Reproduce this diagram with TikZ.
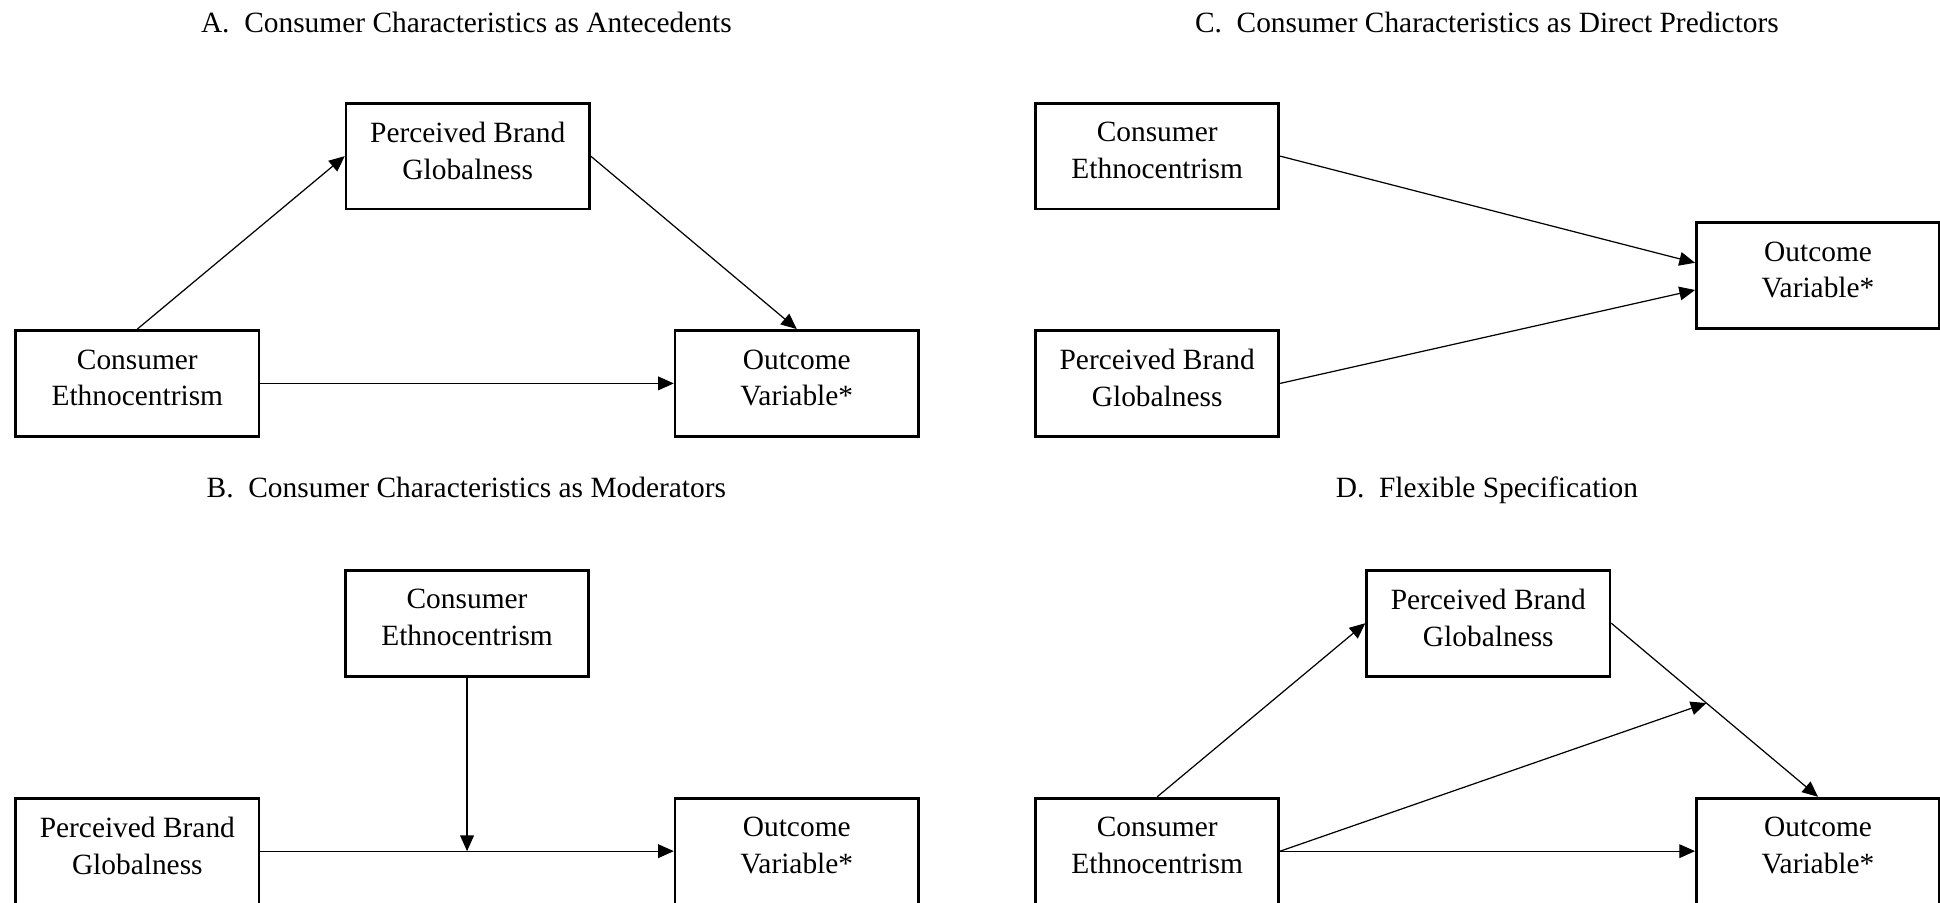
\documentclass[tikz,border=0pt]{standalone}
\usepackage{fontspec}
\setmainfont{Liberation Serif}
\usetikzlibrary{arrows.meta}
\tikzset{
    varbox/.style={rectangle, draw=black, line width=1.1pt, minimum width=3.49cm, minimum height=1.52cm, align=center, font=\fontsize{12pt}{15pt}\selectfont, execute at end node={\rule[-4.6pt]{0pt}{4.6pt}}},
    arrow/.style={-{Triangle[length=6.4pt, width=5.6pt]}, line width=0.5pt, color=black},
    paneltitle/.style={anchor=base, font=\fontsize{12pt}{15pt}\selectfont},
}

\begin{document}
\begin{tikzpicture}
    \useasboundingbox (0,0) rectangle (27.83,-12.94);

    % Pannello A
    \node[paneltitle] (atitle) at (6.69,-0.46) {A.~~Consumer Characteristics as Antecedents};
    \node[varbox] (apbg) at (6.71,-2.24) {Perceived Brand\\Globalness};
    \node[varbox] (ace) at (1.97,-5.50) {Consumer\\Ethnocentrism};
    \node[varbox] (aout) at (11.43,-5.50) {Outcome\\Variable*};
    \draw[arrow] (ace.north) -- (apbg.west);
    \draw[arrow] (apbg.east) -- (aout.north);
    \draw[arrow] (ace.east) -- (aout.west);

    % Pannello B
    \node[paneltitle] (btitle) at (6.69,-7.14) {B.~~Consumer Characteristics as Moderators};
    \node[varbox] (bce) at (6.70,-8.94) {Consumer\\Ethnocentrism};
    \node[varbox] (bpbg) at (1.97,-12.21) {Perceived Brand\\Globalness};
    \node[varbox] (bout) at (11.43,-12.21) {Outcome\\Variable*};
    \draw[arrow] (bpbg.east) -- coordinate[midway] (bmid) (bout.west);
    \draw[arrow] (bce.south) -- (bmid);

    % Pannello C
    \node[paneltitle] (ctitle) at (21.33,-0.46) {C.~~Consumer Characteristics as Direct Predictors};
    \node[varbox] (cce) at (16.60,-2.24) {Consumer\\Ethnocentrism};
    \node[varbox] (cpbg) at (16.60,-5.50) {Perceived Brand\\Globalness};
    \node[varbox] (cout) at (26.08,-3.95) {Outcome\\Variable*};
    \draw[arrow] (cce.east) -- ([yshift=0.18cm]cout.west);
    \draw[arrow] (cpbg.east) -- ([yshift=-0.21cm]cout.west);

    % Pannello D
    \node[paneltitle] (dtitle) at (21.33,-7.14) {D.~~Flexible Specification};
    \node[varbox] (dpbg) at (21.35,-8.94) {Perceived Brand\\Globalness};
    \node[varbox] (dce) at (16.60,-12.21) {Consumer\\Ethnocentrism};
    \node[varbox] (dout) at (26.08,-12.21) {Outcome\\Variable*};
    \draw[arrow] (dce.north) -- (dpbg.west);
    \draw[arrow] (dpbg.east) -- coordinate[pos=0.46] (dmid) (dout.north);
    \draw[arrow] (dce.east) -- (dmid);
    \draw[arrow] (dce.east) -- (dout.west);
\end{tikzpicture}
\end{document}
